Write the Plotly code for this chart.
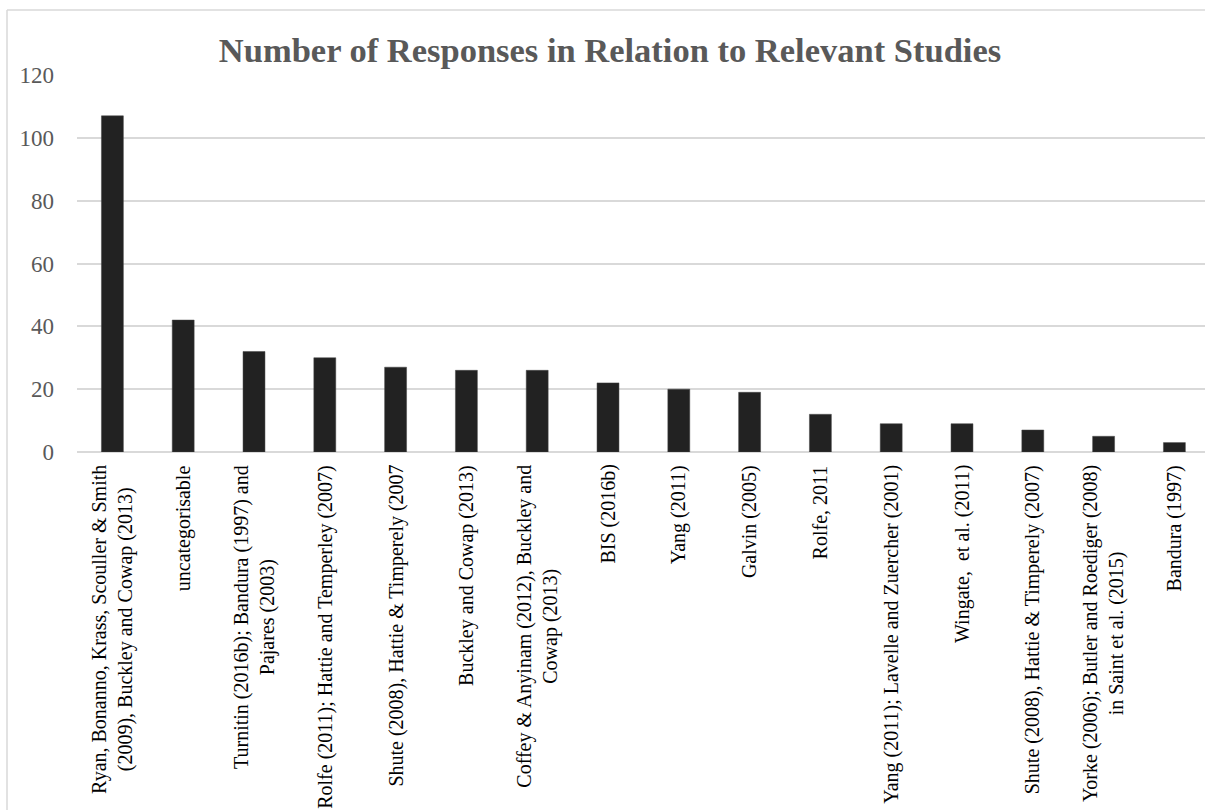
import plotly.graph_objects as go

categories = [
    "Ryan, Bonanno, Krass, Scouller & Smith<br>(2009), Buckley and Cowap (2013)",
    "uncategorisable",
    "Turnitin (2016b); Bandura (1997) and<br>Pajares (2003)",
    "Rolfe (2011); Hattie and Temperley (2007)",
    "Shute (2008), Hattie & Timperely (2007",
    "Buckley and Cowap (2013)",
    "Coffey & Anyinam (2012), Buckley and<br>Cowap (2013)",
    "BIS (2016b)",
    "Yang (2011)",
    "Galvin (2005)",
    "Rolfe, 2011",
    "Yang (2011); Lavelle and Zuercher (2001)",
    "Wingate,  et al. (2011)",
    "Shute (2008), Hattie & Timperely (2007)",
    "Yorke (2006); Butler and Roediger (2008)<br>in Saint et al. (2015)",
    "Bandura (1997)",
]
responses = [107, 42, 32, 30, 27, 26, 26, 22, 20, 19, 12, 9, 9, 7, 5, 3]
y_ticks = [0, 20, 40, 60, 80, 100, 120]

FONT = "Palatino Linotype, Book Antiqua, Palatino, Liberation Serif, serif"

W, H = 1205, 810
L, T = 77, 75
B = H - 452
plot_w = W - L
plot_h = H - T - B
x_pos = list(range(len(categories)))

fig = go.Figure()
fig.add_trace(go.Bar(
    x=x_pos,
    y=responses,
    marker=dict(color="#222222", line=dict(color="#444444", width=0.5)),
    width=0.31,
    hoverinfo="y",
))

# category labels: rotated, lines centred like the original
for xi, label in zip(x_pos, categories):
    fig.add_annotation(
        x=xi, xref="x", y=0, yref="paper",
        text=label, textangle=-90, align="center",
        xanchor="center", yanchor="top", yshift=-11,
        showarrow=False,
        font=dict(family=FONT, size=20, color="#000000"),
    )

fig.update_layout(
    width=W, height=H,
    margin=dict(l=L, r=0, t=T, b=B, autoexpand=False),
    paper_bgcolor="white", plot_bgcolor="white",
    showlegend=False,
    title=dict(
        text="<b>Number of Responses in Relation to Relevant Studies</b>",
        font=dict(family=FONT, size=34.5, color="#595959"),
        x=610 / W, xanchor="center",
        y=1 - 50 / H, yanchor="middle",
        xref="container", yref="container",
    ),
    font=dict(family=FONT),
    xaxis=dict(
        tickvals=x_pos,
        showticklabels=False,
        range=[-0.5, -0.5 + plot_w / 70.8],
        showgrid=False, zeroline=False, showline=False,
        ticks="",
    ),
    yaxis=dict(
        range=[0, 120],
        tickvals=y_ticks,
        tickfont=dict(family=FONT, size=23, color="#595959"),
        showgrid=True, gridcolor="#d9d9d9", gridwidth=1.5,
        zeroline=True, zerolinecolor="#d9d9d9", zerolinewidth=1.5,
        showline=False, ticks="", ticklabelstandoff=22,
    ),
)

# outer chart border (left and top edges visible in the reference)
top_y = 1 + (T - 10) / plot_h
left_x = (7 - L) / plot_w
fig.add_shape(type="line", xref="paper", yref="paper",
              x0=left_x, x1=left_x, y0=top_y, y1=-B / plot_h - 0.1,
              line=dict(color="#d9d9d9", width=1.5))
fig.add_shape(type="line", xref="paper", yref="paper",
              x0=left_x, x1=1.01, y0=top_y, y1=top_y,
              line=dict(color="#d9d9d9", width=1.5))

fig.write_html(
    "out.html",
    config=dict(displayModeBar=False),
    post_script="document.body.style.margin='0';document.body.style.overflow='hidden';",
)
